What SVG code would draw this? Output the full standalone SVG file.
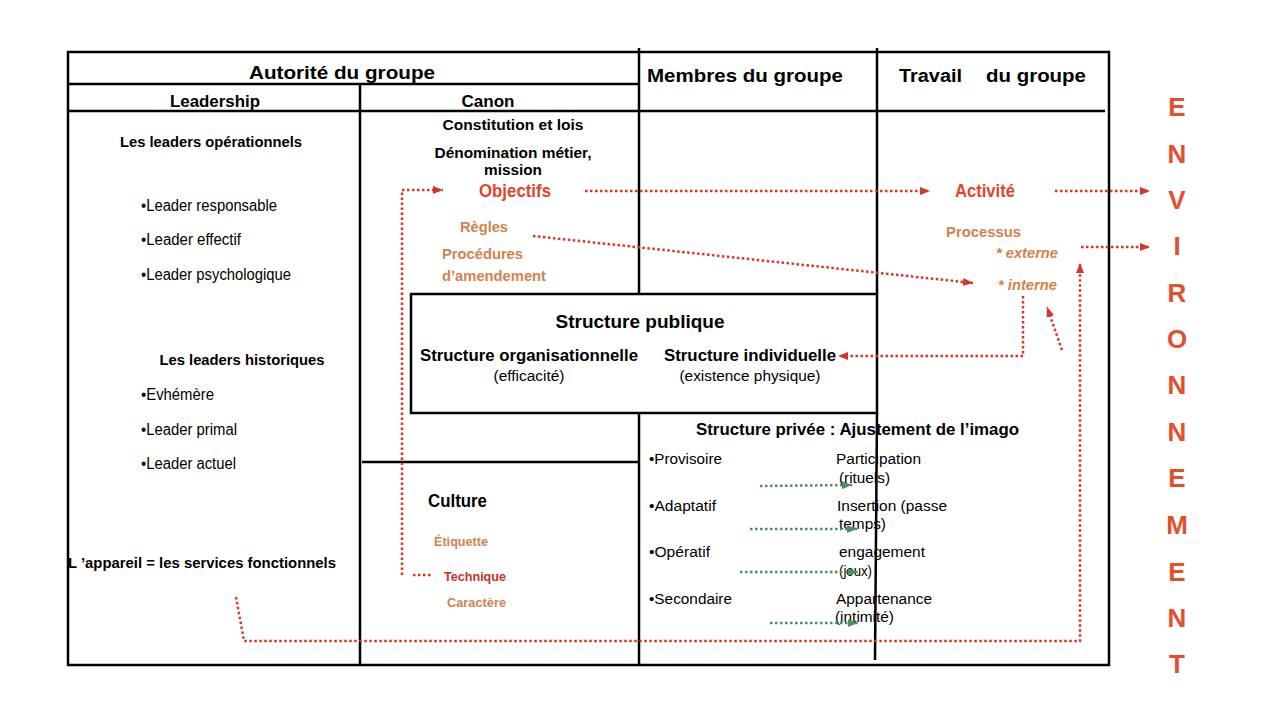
<svg xmlns="http://www.w3.org/2000/svg" width="1280" height="720" viewBox="0 0 1280 720">
<style>
text{font-family:"Liberation Sans",Arial,sans-serif;fill:#000}
.b{font-weight:bold}
.line{stroke:#000;stroke-width:2.5;fill:none}
.red{stroke:#d9342b;stroke-width:2.5;fill:none;stroke-dasharray:2.5 2.5}
.grn{stroke:#4f8f5f;stroke-width:2.5;fill:none;stroke-dasharray:2.5 2.5}
.or{fill:#d4824c}
.rd{fill:#e0452a}
.tq{fill:#c8302a}
.env{font-weight:bold;font-size:26px;fill:#e5502c}
</style>
<defs>
<marker id="ar" markerUnits="userSpaceOnUse" markerWidth="10" markerHeight="8" refX="10" refY="4" orient="auto"><path d="M0,0 L10,4 L0,8 z" fill="#d9342b"/></marker>
<marker id="ag" markerUnits="userSpaceOnUse" markerWidth="10" markerHeight="8" refX="10" refY="4" orient="auto"><path d="M0,0 L10,4 L0,8 z" fill="#4f8f5f"/></marker>
</defs>
<rect width="1280" height="720" fill="#fff"/>
<g id="table">
<rect class="line" x="68" y="52" width="1041" height="613"/>
<line class="line" x1="639" y1="48" x2="639" y2="294"/>
<line class="line" x1="639" y1="413" x2="639" y2="665"/>
<line class="line" x1="877" y1="48" x2="877" y2="294"/>
<line class="line" x1="877" y1="413" x2="875" y2="660"/>
<line class="line" x1="360" y1="84" x2="360" y2="665"/>
<line class="line" x1="68" y1="84" x2="639" y2="84"/>
<line class="line" x1="68" y1="111" x2="639" y2="111"/>
<line class="line" x1="639" y1="111" x2="1105" y2="111"/>
<line class="line" x1="362" y1="462" x2="639" y2="462"/>
</g>
<g id="headers">
<text class="b" x="342" y="79" font-size="18" text-anchor="middle" textLength="186" lengthAdjust="spacingAndGlyphs">Autorité du groupe</text>
<text class="b" x="215" y="107" font-size="16" text-anchor="middle" textLength="90" lengthAdjust="spacingAndGlyphs">Leadership</text>
<text class="b" x="488" y="107" font-size="16" text-anchor="middle" textLength="53" lengthAdjust="spacingAndGlyphs">Canon</text>
<text class="b" x="647" y="82" font-size="18" textLength="196" lengthAdjust="spacingAndGlyphs">Membres du groupe</text>
<text class="b" x="899" y="82" font-size="18" textLength="63" lengthAdjust="spacingAndGlyphs">Travail</text>
<text class="b" x="986" y="82" font-size="18" textLength="100" lengthAdjust="spacingAndGlyphs">du groupe</text>
</g>
<g id="leadership">
<text class="b" x="211" y="147" font-size="15" text-anchor="middle" textLength="182" lengthAdjust="spacingAndGlyphs">Les leaders opérationnels</text>
<text x="141" y="211" font-size="16" textLength="136" lengthAdjust="spacingAndGlyphs">•Leader responsable</text>
<text x="141" y="245" font-size="16" textLength="100" lengthAdjust="spacingAndGlyphs">•Leader effectif</text>
<text x="141" y="280" font-size="16" textLength="150" lengthAdjust="spacingAndGlyphs">•Leader psychologique</text>
<text class="b" x="242" y="365" font-size="15" text-anchor="middle" textLength="165" lengthAdjust="spacingAndGlyphs">Les leaders historiques</text>
<text x="141" y="400" font-size="16" textLength="73" lengthAdjust="spacingAndGlyphs">•Evhémère</text>
<text x="141" y="435" font-size="16" textLength="96" lengthAdjust="spacingAndGlyphs">•Leader primal</text>
<text x="141" y="469" font-size="16" textLength="95" lengthAdjust="spacingAndGlyphs">•Leader actuel</text>
<text class="b" x="68" y="568" font-size="15" textLength="268" lengthAdjust="spacingAndGlyphs">L ’appareil = les services fonctionnels</text>
</g>
<g id="canon">
<text class="b" x="513" y="130" font-size="14" text-anchor="middle" textLength="141" lengthAdjust="spacingAndGlyphs">Constitution et lois</text>
<text class="b" x="513" y="158" font-size="14" text-anchor="middle" textLength="157" lengthAdjust="spacingAndGlyphs">Dénomination métier,</text>
<text class="b" x="513" y="175" font-size="14" text-anchor="middle" textLength="58" lengthAdjust="spacingAndGlyphs">mission</text>
<text class="b rd" x="515" y="197" font-size="18" text-anchor="middle" textLength="72" lengthAdjust="spacingAndGlyphs">Objectifs</text>
<text class="b or" x="484" y="232" font-size="15" text-anchor="middle" textLength="48" lengthAdjust="spacingAndGlyphs">Règles</text>
<text class="b or" x="442" y="259" font-size="15" textLength="81" lengthAdjust="spacingAndGlyphs">Procédures</text>
<text class="b or" x="442" y="281" font-size="15" textLength="104" lengthAdjust="spacingAndGlyphs">d’amendement</text>
</g>
<g id="culture">
<text class="b" x="428" y="507" font-size="18" textLength="59" lengthAdjust="spacingAndGlyphs">Culture</text>
<text class="b or" x="434" y="546" font-size="13" textLength="54" lengthAdjust="spacingAndGlyphs">Étiquette</text>
<text class="b tq" x="444" y="581" font-size="13" textLength="62" lengthAdjust="spacingAndGlyphs">Technique</text>
<text class="b or" x="447" y="607" font-size="13" textLength="59" lengthAdjust="spacingAndGlyphs">Caractère</text>
</g>
<g id="structure-publique">
<rect x="411" y="294" width="466" height="119" fill="#fff" stroke="#000" stroke-width="2.5"/>
<text class="b" x="640" y="328" font-size="19" text-anchor="middle" textLength="169" lengthAdjust="spacingAndGlyphs">Structure publique</text>
<text class="b" x="529" y="361" font-size="17" text-anchor="middle" textLength="218" lengthAdjust="spacingAndGlyphs">Structure organisationnelle</text>
<text x="529" y="381" font-size="14" text-anchor="middle" textLength="71" lengthAdjust="spacingAndGlyphs">(efficacité)</text>
<text class="b" x="750" y="361" font-size="17" text-anchor="middle" textLength="172" lengthAdjust="spacingAndGlyphs">Structure individuelle</text>
<text x="750" y="381" font-size="14" text-anchor="middle" textLength="141" lengthAdjust="spacingAndGlyphs">(existence physique)</text>
</g>
<g id="structure-privee">
<text class="b" x="696" y="435" font-size="17" textLength="323" lengthAdjust="spacingAndGlyphs">Structure privée : Ajustement de l’imago</text>
<text x="649" y="464" font-size="14" textLength="73" lengthAdjust="spacingAndGlyphs">•Provisoire</text>
<text x="649" y="511" font-size="14" textLength="67" lengthAdjust="spacingAndGlyphs">•Adaptatif</text>
<text x="649" y="557" font-size="14" textLength="61" lengthAdjust="spacingAndGlyphs">•Opératif</text>
<text x="649" y="604" font-size="14" textLength="83" lengthAdjust="spacingAndGlyphs">•Secondaire</text>
<text x="836" y="464" font-size="14" textLength="85" lengthAdjust="spacingAndGlyphs">Participation</text>
<text x="839" y="483" font-size="14" textLength="51" lengthAdjust="spacingAndGlyphs">(rituels)</text>
<text x="837" y="511" font-size="14" textLength="110" lengthAdjust="spacingAndGlyphs">Insertion (passe</text>
<text x="839" y="529" font-size="14" textLength="47" lengthAdjust="spacingAndGlyphs">temps)</text>
<text x="839" y="557" font-size="14" textLength="86" lengthAdjust="spacingAndGlyphs">engagement</text>
<text x="839" y="576" font-size="14" textLength="33" lengthAdjust="spacingAndGlyphs">(jeux)</text>
<text x="836" y="604" font-size="14" textLength="96" lengthAdjust="spacingAndGlyphs">Appartenance</text>
<text x="835" y="622" font-size="14" textLength="59" lengthAdjust="spacingAndGlyphs">(intimité)</text>
</g>
<g id="travail">
<text class="b rd" x="985" y="197" font-size="18" text-anchor="middle" textLength="60" lengthAdjust="spacingAndGlyphs">Activité</text>
<text class="b or" x="946" y="237" font-size="15" textLength="75" lengthAdjust="spacingAndGlyphs">Processus</text>
<text class="b or" x="996" y="258" font-size="15" font-style="italic" textLength="62" lengthAdjust="spacingAndGlyphs">* externe</text>
<text class="b or" x="998" y="290" font-size="15" font-style="italic" textLength="59" lengthAdjust="spacingAndGlyphs">* interne</text>
</g>
<g id="environnement">
<text class="env" x="1177" y="116" text-anchor="middle">E</text>
<text class="env" x="1177" y="163" text-anchor="middle">N</text>
<text class="env" x="1177" y="209" text-anchor="middle">V</text>
<text class="env" x="1177" y="255" text-anchor="middle">I</text>
<text class="env" x="1177" y="302" text-anchor="middle">R</text>
<text class="env" x="1177" y="348" text-anchor="middle">O</text>
<text class="env" x="1177" y="394" text-anchor="middle">N</text>
<text class="env" x="1177" y="441" text-anchor="middle">N</text>
<text class="env" x="1177" y="487" text-anchor="middle">E</text>
<text class="env" x="1177" y="534" text-anchor="middle">M</text>
<text class="env" x="1177" y="581" text-anchor="middle">E</text>
<text class="env" x="1177" y="627" text-anchor="middle">N</text>
<text class="env" x="1177" y="673" text-anchor="middle">T</text>
</g>
<g id="connectors">
<path class="red" d="M402,575 L402,190 L443,190" marker-end="url(#ar)"/>
<path class="red" d="M413,575 L432,575"/>
<path class="red" d="M585,191 L930,191" marker-end="url(#ar)"/>
<path class="red" d="M1055,191 L1150,191" marker-end="url(#ar)"/>
<path class="red" d="M533,236 L973,283" marker-end="url(#ar)"/>
<path class="red" d="M1081,247 L1150,247" marker-end="url(#ar)"/>
<path class="red" d="M1023,296 L1023,356 L838,356" marker-end="url(#ar)"/>
<path class="red" d="M1062,350 L1047,307" marker-end="url(#ar)"/>
<path class="red" d="M236,597 L244,641 L1080,641 L1080,263" marker-end="url(#ar)"/>
<path class="grn" d="M760,486 L852,485" marker-end="url(#ag)"/>
<path class="grn" d="M750,529 L857,529" marker-end="url(#ag)"/>
<path class="grn" d="M740,572 L858,572" marker-end="url(#ag)"/>
<path class="grn" d="M770,623 L858,623" marker-end="url(#ag)"/>
</g>
</svg>
